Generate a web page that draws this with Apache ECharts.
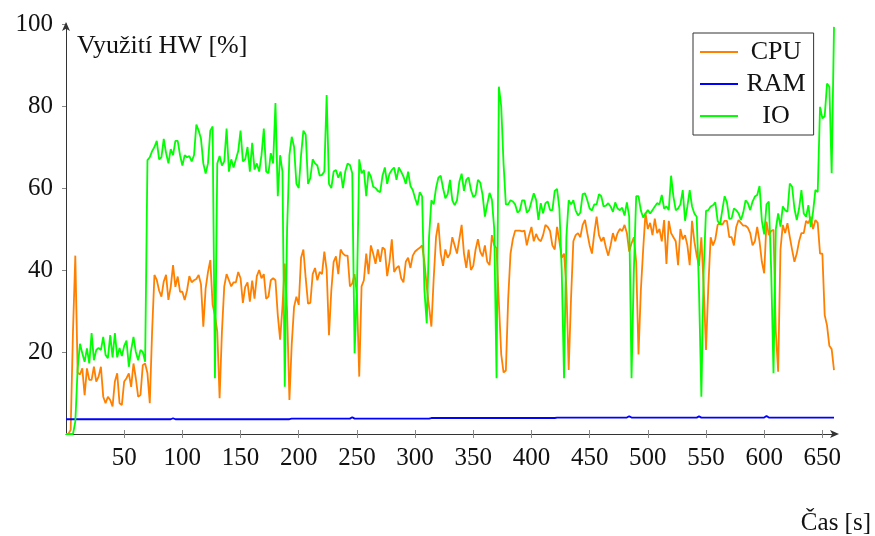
<!DOCTYPE html>
<html>
<head>
<meta charset="utf-8">
<script src="https://cdn.jsdelivr.net/npm/echarts@6/dist/echarts.min.js"></script>
<style>
  html, body { margin: 0; padding: 0; background: #fff; }
  #chart { width: 875px; height: 536px; }
</style>
</head>
<body>
<div id="chart"></div>
<script>
const seriesNames = ['CPU', 'RAM', 'IO'];
const sampleStep = 2; // seconds between CPU / IO samples

const cpuValues = [
  0, 0, 1, 25, 43.5, 15, 14.5, 16, 9.5, 16,
  13.2, 13.2, 16.4, 12.8, 14, 16.4, 9.1, 7.5, 9.1, 8.3,
  6.7, 12.8, 14.8, 7.5, 7.1, 12.8, 13.6, 14.8, 11.5, 17.2,
  13.6, 9.1, 9.5, 16.8, 17.2, 14.8, 7.5, 25, 38.8, 37.6,
  35, 33.5, 37.2, 38.8, 32.7, 35.9, 41.2, 35.9, 38.4, 34.7,
  34.7, 32.7, 35, 38.5, 37, 37.5, 37.8, 38.8, 36.5, 26.2,
  35.5, 39.5, 42.4, 31.5, 29, 25, 8.7, 25, 36, 39,
  37.5, 36, 37, 37, 39.5, 38, 32, 35.9, 37, 32.3,
  37.4, 33, 38.5, 40, 38, 39, 33, 33.5, 37.5, 38,
  37.5, 29, 23, 31, 41.6, 30, 8.3, 22, 31, 33.5,
  31.5, 43, 45, 38, 31.8, 32, 39, 40.5, 37.5, 39.5,
  39, 44.5, 40, 24.1, 35, 42, 43.3, 39, 45, 44,
  43.5, 43.5, 36, 36.7, 39, 34, 14, 36, 37.5, 44,
  39, 46, 44, 41.5, 45, 42, 45.5, 45, 38.5, 42,
  47.5, 39.5, 40.5, 41, 38, 37, 42, 43, 40.5, 43.5,
  44.5, 45, 45.4, 46, 42, 36, 31, 26.2, 38, 48,
  51.5, 44, 41, 45, 43, 44, 48, 46, 44, 47.5,
  51, 44, 40.5, 45, 40, 41, 45, 47.5, 44.5, 43.3,
  46, 42, 41.2, 48.5, 46, 45.3, 32, 19.5, 15, 15.5,
  33, 44, 47.5, 49.6, 49.6, 49.6, 49.4, 49.6, 46, 48.5,
  50.5, 47, 48.8, 47.5, 47, 48.5, 51, 50.5, 49.5, 46,
  45, 50.5, 47, 43, 44, 36, 15.6, 33, 47, 48.5,
  49, 48, 51, 52.2, 49, 46, 44, 49, 53, 48.5,
  47, 48, 45.5, 43.5, 46, 49, 47, 49, 50, 49.5,
  51, 49, 44.5, 46.5, 48, 42, 19.4, 35, 45, 54,
  50, 51.5, 48.5, 52.5, 49, 50, 47, 52.2, 41.5, 52,
  49, 48, 47, 41.2, 50, 47.5, 48.5, 46, 41.2, 52,
  47, 43.5, 41, 48, 36, 20.5, 36, 48, 46, 47.5,
  51, 51.5, 51, 52, 52, 48, 48, 46, 50.5, 52.2,
  51.5, 50.8, 50.8, 50.3, 49, 46, 47, 50.5, 47, 42,
  39.2, 51.8, 48.5, 49.5, 49.8, 25, 15.2, 45, 51, 49,
  51.4, 48.1, 44.9, 42, 44, 47, 49, 49, 52, 51.4,
  53, 50, 52.2, 51.5, 44, 44, 29, 26.5, 21.5, 20.7,
  15.6
];

const ioValues = [
  0, 0, 0, 0, 3, 16, 22, 19.7, 17.6, 20.9,
  17.2, 24.6, 18, 20.5, 21, 20.5, 23.7, 19.3, 18.5, 24.1,
  18.7, 24.6, 18.7, 21, 19, 21.5, 22.8, 16.4, 20.5, 23.7,
  20, 18, 20.5, 20, 17.6, 66.8, 67.5, 69, 70, 71.5,
  67, 67.5, 72, 68.5, 66, 69.5, 68, 71.5, 71.5, 68,
  65.5, 68, 67.5, 67.8, 66.5, 68, 75.5, 74, 72, 66,
  63.5, 66, 74, 75, 13.6, 66, 67.8, 65.5, 66.5, 74.5,
  64, 67, 65, 67, 69, 74, 66.5, 67, 70, 64,
  71, 64.5, 66, 64, 68, 74.5, 64, 63.6, 68.5, 66,
  80.7, 58, 68, 64, 11.5, 50, 68, 72.5, 70, 61,
  60, 68, 74, 73, 61, 62.5, 67, 66, 65.5, 63,
  63.2, 64, 82.7, 61, 60, 64, 64.4, 62.5, 64, 60,
  64, 66, 65.6, 63.6, 19.7, 35, 67, 63.6, 64.4, 58,
  64, 62.8, 60.3, 60, 59.3, 59, 63, 65, 61, 63.5,
  64.4, 65, 62, 65, 64, 62.8, 61, 64, 60.5, 59.5,
  57.5, 55.8, 59, 58, 35, 27, 48, 57, 56, 60,
  62.5, 63, 60, 57.5, 58.5, 62, 57, 55.8, 57, 61.5,
  63.5, 59.3, 62, 62.6, 59.5, 57.8, 58.3, 62, 61.3, 58.3,
  53, 56, 58.8, 57.2, 50, 13.6, 84.7, 80, 66, 56,
  56, 57, 56.7, 56, 54, 54.5, 57, 57, 54, 54.6,
  56.7, 58.7, 57.1, 52.2, 56.3, 53.8, 56.3, 56.7, 54.6, 54.6,
  59.3, 59.8, 55, 40, 13.6, 48, 57, 56, 57, 54.5,
  53.3, 54, 58.5, 58.7, 57, 55, 54.5, 56, 56, 58.5,
  58, 55.5, 55.7, 56.3, 55.5, 54.2, 56.5, 55, 54.6, 55.2,
  53.3, 56.5, 53, 13.6, 40, 58, 58, 54.5, 52.8, 53.8,
  54.6, 53.8, 54.6, 55.5, 56.3, 56, 58.3, 55, 55.5, 54.6,
  63, 57.9, 54.6, 55, 56, 59.5, 52, 55.5, 59.5, 55.5,
  53.8, 53, 35, 9.1, 40, 54.4, 54.6, 55.5, 55.8, 56.5,
  52, 51, 54.6, 58, 56.5, 52.5, 52.6, 55, 54.6, 53.8,
  52.2, 54, 57, 56.3, 54.6, 56.7, 57.9, 58.3, 60.5, 52,
  48.7, 56, 56.7, 40, 14.8, 50, 53.8, 50.6, 55.5, 54.6,
  54.2, 61.1, 60.3, 55, 52.2, 55, 59.5, 53.8, 53, 55.8,
  50.5, 54.2, 59.5, 59, 79.8, 77, 77.5, 85.5, 84.7, 63.6,
  99.3
];

// RAM is almost flat, so it is kept as its own sparse sample list
const ramTimes  = [0, 90, 92, 94, 192, 194, 244, 246, 248, 312, 314, 420, 422, 482, 484, 486, 542, 544, 546, 600, 602, 604, 660];
const ramValues = [3.6, 3.6, 3.85, 3.6, 3.6, 3.75, 3.75, 4.1, 3.75, 3.75, 3.9, 3.9, 4.0, 4.0, 4.35, 4.0, 4.0, 4.3, 4.0, 4.0, 4.4, 4.0, 4.0];

const xTicks = [50, 100, 150, 200, 250, 300, 350, 400, 450, 500, 550, 600, 650];
const yTicks = [20, 40, 60, 80, 100];

const FONT = '"Liberation Serif", "DejaVu Serif", serif';
const colors = ['#ff8000', '#0000ff', '#00ff00'];

const chart = echarts.init(document.getElementById('chart'), null, { renderer: 'canvas' });

function timed(values) {
  return values.map(function (v, i) { return [i * sampleStep, v]; });
}

const option = {
  animation: false,
  backgroundColor: '#ffffff',
  color: colors,
  grid: { left: 66, right: 41, top: 24, bottom: 102 },
  xAxis: [{
    type: 'value',
    min: 0,
    max: 660,
    axisLine: {
      show: true,
      symbol: ['none', 'arrow'],
      symbolSize: [6, 9],
      symbolOffset: [0, 5],
      lineStyle: { color: '#333', width: 1 }
    },
    axisTick: { show: true, customValues: xTicks, length: 4, lineStyle: { color: '#888' } },
    axisLabel: { customValues: xTicks, fontFamily: FONT, fontSize: 25, color: '#111', margin: 12 },
    splitLine: { show: false }
  }, {
    type: 'value',
    position: 'bottom',
    min: 0,
    max: 660,
    axisLine: { show: false },
    axisTick: { show: true, inside: true, customValues: xTicks, length: 4, lineStyle: { color: '#888' } },
    axisLabel: { show: false },
    splitLine: { show: false }
  }],
  yAxis: {
    type: 'value',
    min: 0,
    max: 100,
    interval: 20,
    axisLine: {
      show: true,
      symbol: ['none', 'arrow'],
      symbolSize: [6, 9],
      symbolOffset: [0, 2],
      lineStyle: { color: '#333', width: 1 }
    },
    axisTick: { show: true, customValues: yTicks, length: 4, lineStyle: { color: '#888' } },
    axisLabel: { customValues: yTicks, fontFamily: FONT, fontSize: 25, color: '#111', margin: 13 },
    splitLine: { show: false }
  },
  legend: {
    data: seriesNames,
    orient: 'vertical',
    left: 693,
    top: 33,
    icon: 'rect',
    itemWidth: 38,
    itemHeight: 2,
    itemGap: 6,
    padding: [6, 8, 6, 7],
    borderColor: '#333',
    borderWidth: 1,
    borderRadius: 0,
    backgroundColor: '#fff',
    selectedMode: false,
    formatter: '{c|{name}}',
    textStyle: {
      fontFamily: FONT,
      fontSize: 26,
      color: '#111',
      rich: { c: { width: 66, align: 'center', fontFamily: FONT, fontSize: 26, color: '#111' } }
    }
  },
  graphic: [{
    type: 'text',
    left: 77,
    top: 33,
    style: { text: 'Využití HW [%]', font: '26px ' + FONT, fill: '#111' }
  }, {
    type: 'text',
    right: 4,
    top: 511,
    style: { text: 'Čas [s]', font: '25px ' + FONT, fill: '#111' }
  }],
  series: [{
    name: 'CPU',
    type: 'line',
    symbol: 'none',
    lineStyle: { width: 1.8, color: colors[0] },
    data: timed(cpuValues)
  }, {
    name: 'RAM',
    type: 'line',
    symbol: 'none',
    lineStyle: { width: 1.8, color: colors[1] },
    data: ramTimes.map(function (t, i) { return [t, ramValues[i]]; })
  }, {
    name: 'IO',
    type: 'line',
    symbol: 'none',
    lineStyle: { width: 1.8, color: colors[2] },
    data: timed(ioValues)
  }]
};

chart.setOption(option);
</script>
</body>
</html>
